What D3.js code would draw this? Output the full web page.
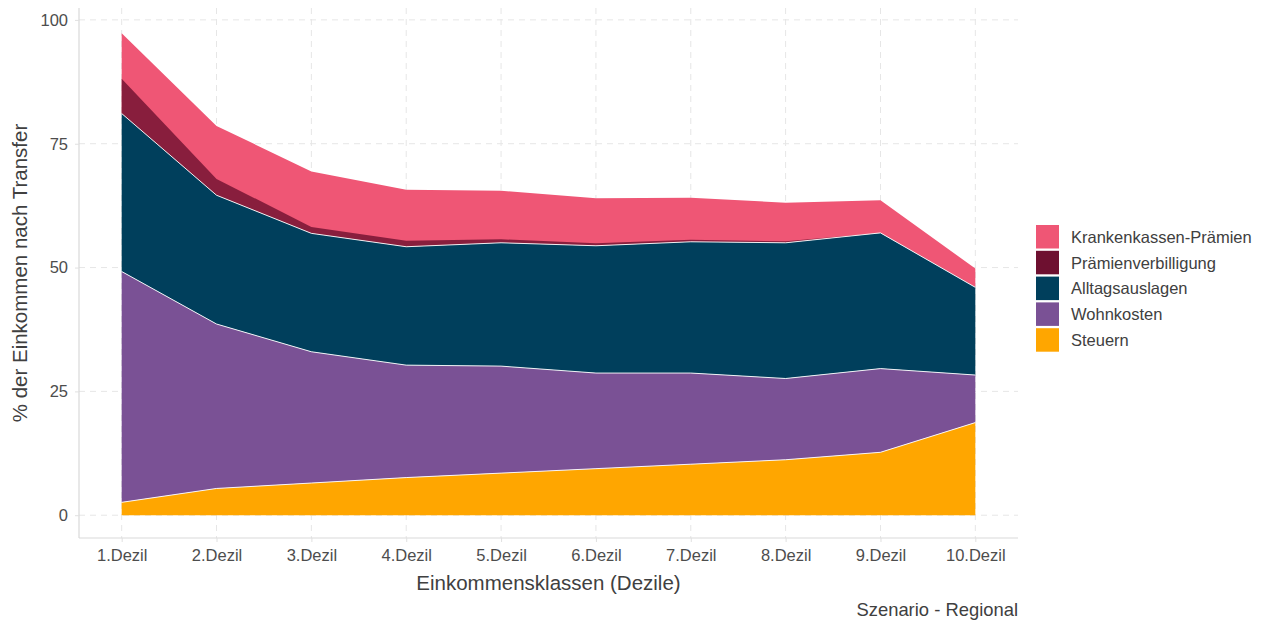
<!DOCTYPE html>
<html>
<head>
<meta charset="utf-8">
<script src="https://cdn.jsdelivr.net/npm/d3@7"></script>
<style>
	body { margin: 0; background: #fff; }
	svg text { font-family: "Liberation Sans", Arial, sans-serif; }
</style>
</head>
<body>
<script>
//data (percent of income after transfer)
var deciles = ["1.Dezil","2.Dezil","3.Dezil","4.Dezil","5.Dezil","6.Dezil","7.Dezil","8.Dezil","9.Dezil","10.Dezil"];
var steuern = [2.6, 5.4, 6.5, 7.6, 8.5, 9.4, 10.3, 11.2, 12.7, 18.7];
var wohnkosten = [46.6, 33.2, 26.5, 22.7, 21.6, 19.3, 18.4, 16.4, 16.9, 9.6];
var alltag = [31.9, 26.0, 23.9, 23.9, 24.9, 25.7, 26.5, 27.4, 27.4, 17.7];
var verbilligung = [7.0, 3.3, 1.3, 1.2, 0.7, 0.5, 0.4, 0.3, 0, 0];
var praemien = [9.2, 10.7, 11.2, 10.3, 9.8, 9.1, 8.5, 7.8, 6.6, 3.8];
var yTicks = [0, 25, 50, 75, 100];

var keys = ["Steuern","Wohnkosten","Alltagsauslagen","Prämienverbilligung","Krankenkassen-Prämien"];
var colors = {
	"Steuern": "#FFA600",
	"Wohnkosten": "#7A5195",
	"Alltagsauslagen": "#003F5C",
	"Prämienverbilligung": "#6E1030",
	"Krankenkassen-Prämien": "#EF5675"
};

//build table for d3.stack
var table = deciles.map(function(d, i){
	return {
		idx: i + 1,
		"Steuern": steuern[i],
		"Wohnkosten": wohnkosten[i],
		"Alltagsauslagen": alltag[i],
		"Prämienverbilligung": verbilligung[i],
		"Krankenkassen-Prämien": praemien[i]
	};
});

var width = 1269, height = 622;
var pLeft = 79, pRight = 1018, pTop = 8, pBottom = 538;

var svg = d3.select("body").append("svg")
	.attr("width", width)
	.attr("height", height);

var x = d3.scaleLinear().domain([0.55, 10.45]).range([pLeft, pRight]);
var y = d3.scaleLinear().domain([-4.6, 102.4]).range([pBottom, pTop]);

//grid lines
var grid = svg.append("g").attr("class", "grid");
grid.selectAll(".hgrid")
	.data(yTicks)
	.enter()
	.append("line")
	.attr("x1", pLeft).attr("x2", pRight)
	.attr("y1", function(d){ return y(d); })
	.attr("y2", function(d){ return y(d); })
	.attr("stroke", "#e6e6e6")
	.attr("stroke-dasharray", "6,5");
grid.selectAll(".vgrid")
	.data(table)
	.enter()
	.append("line")
	.attr("x1", function(d){ return x(d.idx); })
	.attr("x2", function(d){ return x(d.idx); })
	.attr("y1", pTop).attr("y2", pBottom)
	.attr("stroke", "#e6e6e6")
	.attr("stroke-dasharray", "6,5");

var series = d3.stack().keys(keys)(table);

var area = d3.area()
	.x(function(d){ return x(d.data.idx); })
	.y0(function(d){ return y(d[0]); })
	.y1(function(d){ return y(d[1]); });

var topLine = d3.line()
	.x(function(d){ return x(d.data.idx); })
	.y(function(d){ return y(d[1]); });

//pink premium layer sits under the subsidy band
var pinkArea = d3.area()
	.x(function(d, i){ return x(table[i].idx); })
	.y0(function(d, i){ return y(series[2][i][1]); })
	.y1(function(d, i){ return y(series[4][i][1]); });

var layers = svg.append("g").attr("class", "layers");
layers.append("path")
	.datum(table)
	.attr("d", pinkArea)
	.attr("fill", colors["Krankenkassen-Prämien"]);

[0, 1, 2, 3].forEach(function(k){
	layers.append("path")
		.datum(series[k])
		.attr("d", area)
		.attr("fill", colors[keys[k]])
		.attr("fill-opacity", k == 3 ? 0.8 : 1);
});
//thin white outline on the lower layers
[0, 1, 2].forEach(function(k){
	layers.append("path")
		.datum(series[k])
		.attr("d", topLine)
		.attr("fill", "none")
		.attr("stroke", "#fff")
		.attr("stroke-width", 0.9);
});

//axes
var xAxis = d3.axisBottom(x)
	.tickValues(table.map(function(d){ return d.idx; }))
	.tickFormat(function(d){ return deciles[d - 1]; })
	.tickSize(4).tickPadding(7);
var gx = svg.append("g")
	.attr("transform", "translate(0," + pBottom + ")")
	.call(xAxis);
gx.select(".domain").attr("stroke", "#d9d9d9").attr("stroke-width", 1.2)
	.attr("d", "M" + pLeft + ",0H" + pRight);
gx.selectAll(".tick line").attr("stroke", "#e0e0e0");
gx.selectAll(".tick text").attr("fill", "#4d4d4d").style("font-size", "16.5px");

var yAxis = d3.axisLeft(y)
	.tickValues(yTicks)
	.tickSize(4).tickPadding(7);
var gy = svg.append("g")
	.attr("transform", "translate(" + pLeft + ",0)")
	.call(yAxis);
gy.select(".domain").attr("stroke", "#d9d9d9").attr("stroke-width", 1.2)
	.attr("d", "M0," + pTop + "V" + pBottom);
gy.selectAll(".tick line").attr("stroke", "#e0e0e0");
gy.selectAll(".tick text").attr("fill", "#4d4d4d").style("font-size", "16.5px");

//titles
svg.append("text")
	.attr("x", (pLeft + pRight) / 2).attr("y", 590)
	.attr("text-anchor", "middle")
	.attr("fill", "#404040")
	.style("font-size", "20.5px")
	.text("Einkommensklassen (Dezile)");

svg.append("text")
	.attr("transform", "translate(27," + (pTop + pBottom) / 2 + ") rotate(-90)")
	.attr("text-anchor", "middle")
	.attr("fill", "#404040")
	.style("font-size", "20.5px")
	.text("% der Einkommen nach Transfer");

svg.append("text")
	.attr("x", pRight).attr("y", 616)
	.attr("text-anchor", "end")
	.attr("fill", "#404040")
	.style("font-size", "18.4px")
	.text("Szenario - Regional");

//legend, top entry is the top layer
var legendKeys = keys.slice().reverse();
var legend = svg.append("g").attr("transform", "translate(1036,225)");
var rows = legend.selectAll(".row")
	.data(legendKeys)
	.enter()
	.append("g")
	.attr("transform", function(d, i){ return "translate(0," + i * 25.8 + ")"; });
rows.append("rect")
	.attr("width", 23).attr("height", 23.5)
	.attr("fill", function(d){ return colors[d]; });
rows.append("text")
	.attr("x", 35).attr("y", 12)
	.attr("dy", "0.35em")
	.attr("fill", "#404040")
	.style("font-size", "16.5px")
	.text(function(d){ return d; });
</script>
</body>
</html>
